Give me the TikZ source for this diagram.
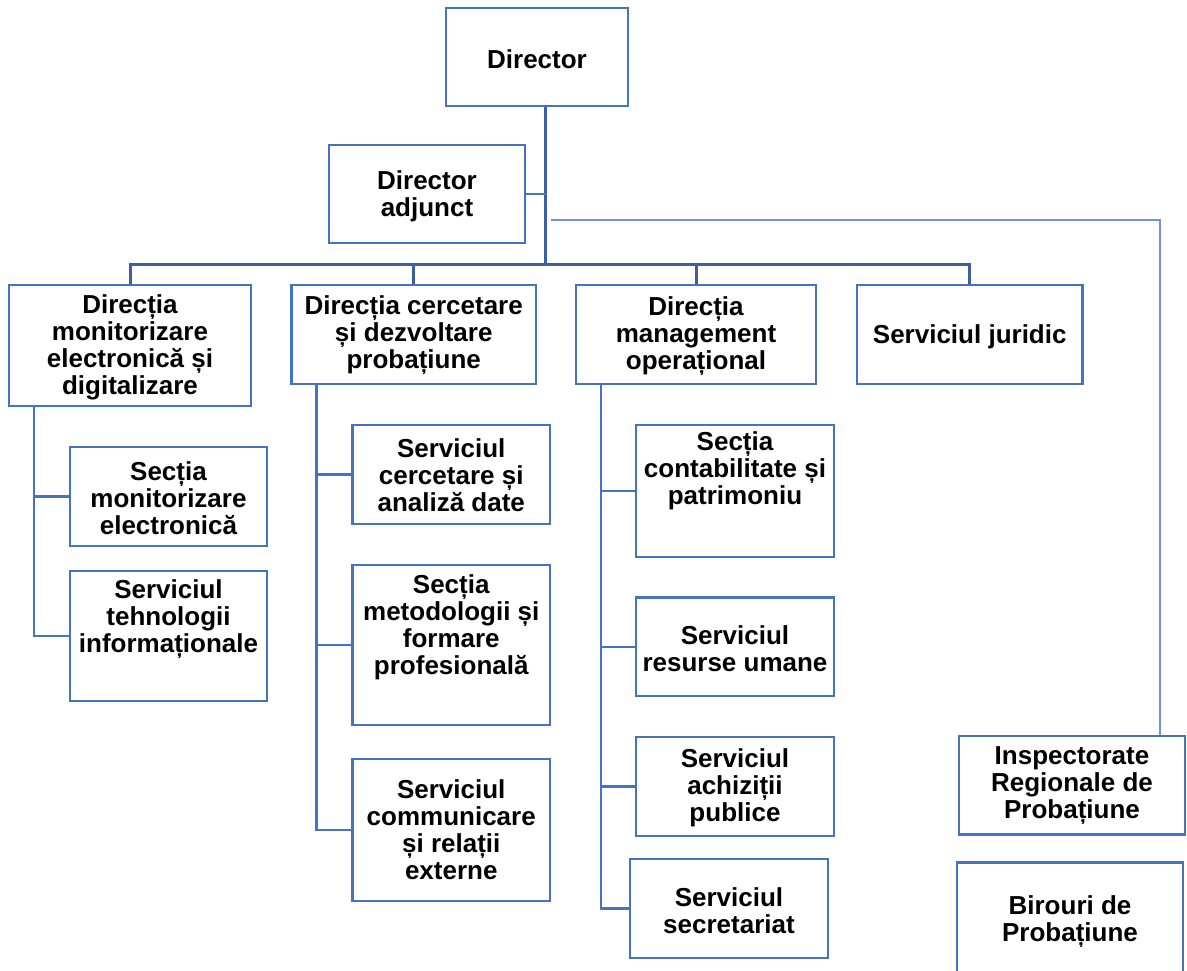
\documentclass[tikz,border=0pt]{standalone}
\usepackage{fontspec}
\setmainfont{Liberation Sans}
\definecolor{boxblue}{HTML}{4472C4}
\definecolor{lineblue}{HTML}{3B5EA6}
\definecolor{lightblue}{HTML}{6E93D6}
\tikzset{
  boxst/.style={draw=boxblue, line width=2.4pt, inner sep=0pt, fill=white},
  lbl/.style={font=\bfseries\fontsize{26}{27}\selectfont, align=center, inner sep=0pt, text=black},
  trunk/.style={draw=lineblue, line width=3pt},
  conn/.style={draw=boxblue, line width=2.4pt},
  thinconn/.style={draw=lightblue, line width=1.3pt}
}
% name, x1, y1, x2, y2, text centre y, text
\newcommand\obox[7]{%
  \node[boxst, minimum width={(#4-#2)*1pt}, minimum height={(#5-#3)*1pt}] (#1) at ({(#2+#4)/2},{(#3+#5)/2}) {};
  \node[lbl] (#1-t) at ({(#2+#4)/2},#6+2) {#7};
}
\begin{document}
\begin{tikzpicture}[x=1pt,y=-1pt]
\useasboundingbox (0,0) rectangle (1187,970);
\clip (0,0) rectangle (1187,970);

\coordinate (bus) at (545.5,264);
\coordinate (ts) at (551,220);
\coordinate (tx) at (1160,220);
\coordinate (bm) at (34,406);
\coordinate (bc) at (316.5,384);
\coordinate (bo) at (601,384);

\obox{dir}{446}{8}{628}{106}{57}{Director}
\obox{adj}{329}{145}{525}{243}{194}{Director\\adjunct}
\obox{dm}{9}{285}{251}{406}{345}{Direcția\\monitorizare\\electronică și\\digitalizare}
\obox{dc}{291.5}{285}{536}{384}{333}{Direcția cercetare\\și dezvoltare\\probațiune}
\obox{mo}{576}{285}{816}{384}{334}{Direcția\\management\\operațional}
\obox{js}{857}{285}{1082.5}{384}{335}{Serviciul juridic}

\obox{sme}{70}{447}{267}{546}{496}{Secția\\monitorizare\\electronică}
\obox{sti}{70}{571}{267}{701}{617}{Serviciul\\tehnologii\\informaționale}

\obox{sca}{352.5}{425}{550}{524}{473}{Serviciul\\cercetare și\\analiză date}
\obox{smf}{352.5}{565}{550}{725}{625}{Secția\\metodologii și\\formare\\profesională}
\obox{scr}{352.5}{759}{550}{901}{828}{Serviciul\\communicare\\și relații\\externe}

\obox{scp}{636}{425}{834}{557}{469}{Secția\\contabilitate și\\patrimoniu}
\obox{sru}{636}{597.5}{834}{696}{646.5}{Serviciul\\resurse umane}
\obox{sap}{636}{737}{834}{836}{786}{Serviciul\\achiziții\\publice}
\obox{sse}{630}{859}{828}{958}{908.5}{Serviciul\\secretariat}

\obox{irp}{959}{736}{1185}{834.5}{784}{Inspectorate\\Regionale de\\Probațiune}
\obox{bp}{957}{862.5}{1183}{1010}{919.5}{Birouri de\\Probațiune}

\draw[trunk] (dir.south -| bus) -- (bus);
\draw[conn] (adj.east) -- (adj.east -| bus);
\draw[trunk] (dm.north) |- (bus) -| (js.north);
\draw[trunk] (dc.north) -- (dc.north |- bus);
\draw[trunk] (mo.north) -- (mo.north |- bus);

\draw[conn] (bm) |- (sme.west);
\draw[conn] (bm |- sme.west) |- (sti.west);
\draw[conn] (bc) |- (sca.west);
\draw[conn] (bc |- sca.west) |- (smf.west);
\draw[conn] (bc |- smf.west) |- (scr.west);
\draw[conn] (bo) |- (scp.west);
\draw[conn] (bo |- scp.west) |- (sru.west);
\draw[conn] (bo |- sru.west) |- (sap.west);
\draw[conn] (bo |- sap.west) |- (sse.west);

\draw[thinconn] (ts) -- (tx) -- (tx |- irp.north);
\end{tikzpicture}
\end{document}
